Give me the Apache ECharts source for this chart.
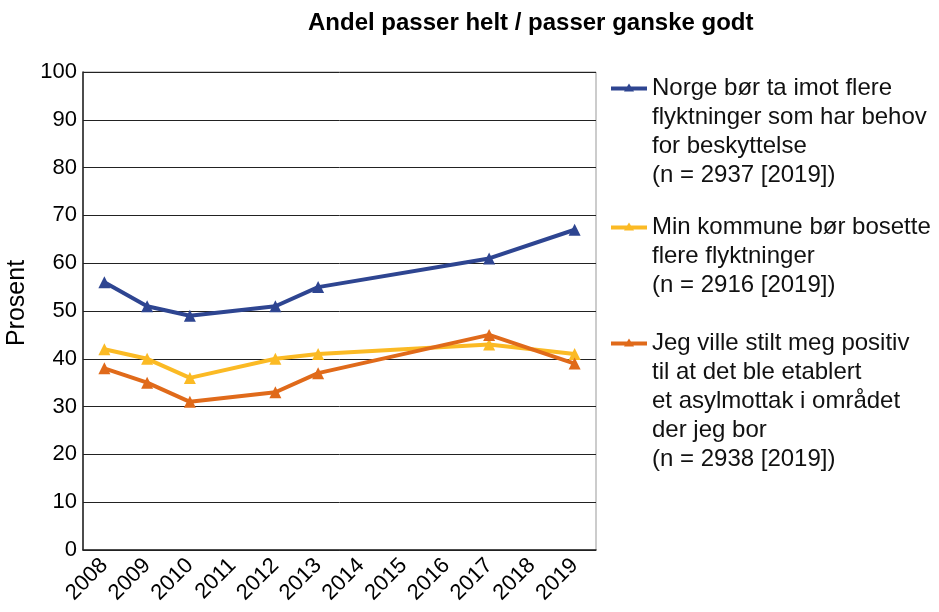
<!DOCTYPE html>
<html>
<head>
<meta charset="utf-8">
<script src="https://cdn.jsdelivr.net/npm/echarts@6/dist/echarts.min.js"></script>
<style>
  html, body { margin: 0; padding: 0; background: #fff; }
  #chart { width: 939px; height: 612px; }
</style>
</head>
<body>
<div id="chart"></div>
<script>
const years = ['2008', '2009', '2010', '2011', '2012', '2013', '2014', '2015', '2016', '2017', '2018', '2019'];

const norgeName = 'Norge bør ta imot flere\nflyktninger som har behov\nfor beskyttelse\n(n = 2937 [2019])';
const kommuneName = 'Min kommune bør bosette\nflere flyktninger\n(n = 2916 [2019])';
const asylName = 'Jeg ville stilt meg positiv\ntil at det ble etablert\net asylmottak i området\nder jeg bor\n(n = 2938 [2019])';

const norge = [56, 51, 49, null, 51, 55, null, null, null, 61, null, 67];
const kommune = [42, 40, 36, null, 40, 41, null, null, null, 43, null, 41];
const asyl = [38, 35, 31, null, 33, 37, null, null, null, 45, null, 39];

const colors = ['#2e4591', '#fbba24', '#e06a1a'];
const font = 'Liberation Sans, Arial, sans-serif';
const lineH = 29;

// legend icon: line + small triangle sitting on the first text line
function legendIcon(lines) {
  const h = lines * lineH;
  const c = lineH / 2;
  return 'path://M0,0L0.01,0' +
    'M0,' + (c - 2) + 'L36,' + (c - 2) + 'L36,' + (c + 2) + 'L0,' + (c + 2) + 'Z' +
    'M13,' + (c + 3) + 'L18,' + (c - 5) + 'L23,' + (c + 3) + 'Z' +
    'M0,' + h + 'L0.01,' + h;
}

function makeLegend(name, lines, top) {
  return {
    data: [name],
    orient: 'vertical',
    left: 611,
    top: top,
    padding: 0,
    itemWidth: 36,
    itemHeight: lines * lineH,
    icon: legendIcon(lines),
    symbolKeepAspect: false,
    selectedMode: false,
    itemStyle: { borderWidth: 0 },
    textStyle: { fontFamily: font, fontSize: 24, color: '#111', lineHeight: lineH }
  };
}

function makeSeries(name, data, color) {
  return {
    name: name,
    type: 'line',
    data: data,
    connectNulls: true,
    symbol: 'triangle',
    symbolSize: 12,
    color: color,
    lineStyle: { width: 4, color: color },
    itemStyle: { color: color },
    emphasis: { disabled: true }
  };
}

const chart = echarts.init(document.getElementById('chart'));
chart.setOption({
  animation: false,
  backgroundColor: '#fff',
  title: {
    text: 'Andel passer helt / passer ganske godt',
    left: 303,
    top: 6,
    textStyle: { fontFamily: font, fontSize: 24, fontWeight: 'bold', color: '#000' }
  },
  legend: [
    makeLegend(norgeName, 4, 74),
    makeLegend(kommuneName, 3, 213),
    makeLegend(asylName, 5, 329)
  ],
  grid: {
    left: 83, right: 343, top: 72, bottom: 62,
    outerBoundsMode: 'none',
    containLabel: false,
    show: true, borderColor: '#999', borderWidth: 1
  },
  xAxis: {
    type: 'category',
    data: years,
    boundaryGap: true,
    axisLine: { lineStyle: { color: '#222', width: 1.5 } },
    axisTick: { show: false },
    axisLabel: {
      rotate: 45, interval: 0, margin: 12,
      fontFamily: font, fontSize: 22, color: '#000'
    }
  },
  yAxis: {
    type: 'value',
    min: 0, max: 100, interval: 10,
    name: 'Prosent',
    nameLocation: 'middle',
    nameGap: 49,
    nameTextStyle: { fontFamily: font, fontSize: 25, color: '#000', padding: [0, 0, 0, 16] },
    axisLine: { show: true, lineStyle: { color: '#222', width: 1.5 } },
    axisTick: { show: false },
    axisLabel: { margin: 6, fontFamily: font, fontSize: 22, color: '#000' },
    splitLine: { lineStyle: { color: '#222', width: 1 } }
  },
  series: [
    makeSeries(norgeName, norge, colors[0]),
    makeSeries(kommuneName, kommune, colors[1]),
    makeSeries(asylName, asyl, colors[2])
  ]
});
</script>
</body>
</html>
